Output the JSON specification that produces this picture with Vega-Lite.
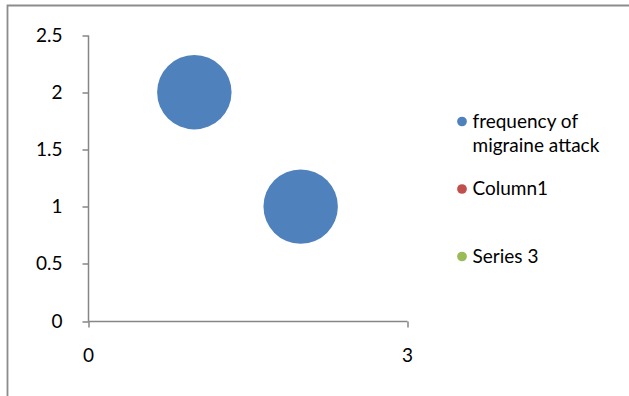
{
  "$schema": "https://vega.github.io/schema/vega-lite/v6.json",
  "width": 625,
  "height": 400,
  "autosize": {"type": "none"},
  "padding": {"left": 7.5, "top": 5.5, "right": 0, "bottom": 0},
  "background": "white",
  "config": {
    "view": {"stroke": "#8c8c8c", "strokeWidth": 1.8},
    "font": "Lato",
    "style": {"guide-label": {"lineHeight": 24}}
  },
  "data": {
    "values": [
      {"x": 1, "y": 2, "series": "frequency of migraine attack"},
      {"x": 2, "y": 1, "series": "frequency of migraine attack"}
    ]
  },
  "mark": {"type": "circle", "opacity": 1, "size": 5540},
  "encoding": {
    "x": {
      "field": "x",
      "type": "quantitative",
      "scale": {"domain": [0, 3], "range": [80.5, 399.5], "nice": false, "zero": false},
      "axis": {
        "title": null,
        "values": [0, 3],
        "format": "~g",
        "grid": false,
        "offset": -84.5,
        "domainColor": "#868686",
        "domainWidth": 1.5,
        "tickColor": "#868686",
        "tickWidth": 1.5,
        "tickSize": 6,
        "labelPadding": 19,
        "labelFontSize": 19,
        "labelColor": "#000000",
        "labelFlush": false
      }
    },
    "y": {
      "field": "y",
      "type": "quantitative",
      "scale": {"domain": [0, 2.5], "range": [315.5, 29.5], "nice": false, "zero": false},
      "axis": {
        "title": null,
        "values": [0, 0.5, 1, 1.5, 2, 2.5],
        "format": "~g",
        "grid": false,
        "offset": -80.5,
        "domainColor": "#868686",
        "domainWidth": 1.5,
        "tickColor": "#868686",
        "tickWidth": 1.5,
        "tickSize": 6,
        "labelPadding": 20,
        "labelFontSize": 19,
        "labelColor": "#000000",
        "labelFlush": false
      }
    },
    "color": {
      "field": "series",
      "type": "nominal",
      "scale": {
        "domain": ["frequency of migraine attack", "Column1", "Series 3"],
        "range": ["#4F81BD", "#C0504D", "#9BBB59"]
      },
      "legend": {
        "title": null,
        "orient": "none",
        "legendX": 445,
        "legendY": 106.5,
        "padding": 0,
        "gridAlign": "all",
        "symbolType": "circle",
        "symbolSize": 95,
        "symbolStrokeWidth": 0,
        "labelFontSize": 19,
        "labelColor": "#000000",
        "labelOffset": 1,
        "labelLimit": 300,
        "rowPadding": 23.5,
        "labelExpr": "datum.label == 'frequency of migraine attack' ? ['frequency of', 'migraine attack'] : datum.label"
      }
    }
  }
}
